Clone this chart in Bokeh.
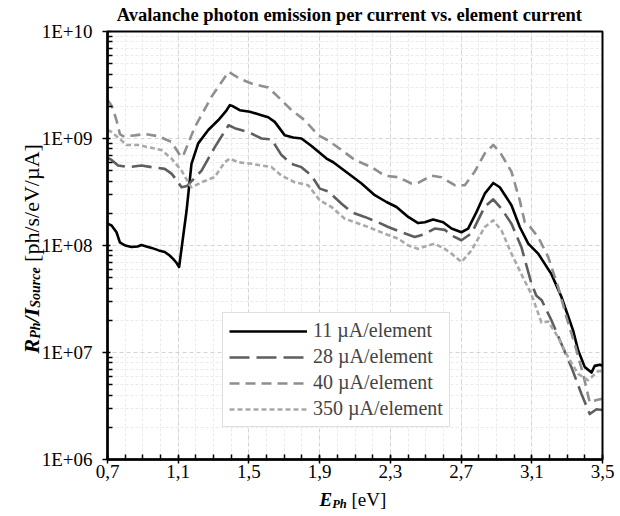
import numpy as np
from bokeh.plotting import figure
from bokeh.models import (FixedTicker, CustomJSTickFormatter, Label, Legend, LegendItem,
                          ColumnDataSource, Range1d)
from bokeh.embed import file_html
from bokeh.resources import INLINE

# ---------------- data ----------------
series_labels = ["11 \u00b5A/element", "28 \u00b5A/element", "40 \u00b5A/element", "350 \u00b5A/element"]

e_11 = [0.70, 0.723, 0.751, 0.770, 0.800, 0.836, 0.870, 0.892, 0.920, 0.949, 0.990, 1.024, 1.050, 1.071,
        1.090, 1.105, 1.147, 1.175, 1.213, 1.270, 1.326, 1.370, 1.392, 1.410, 1.448, 1.505, 1.571,
        1.609, 1.646, 1.703, 1.750, 1.797, 1.854, 1.939, 1.977, 2.062, 2.137, 2.212, 2.278, 2.335,
        2.401, 2.457, 2.495, 2.542, 2.599, 2.646, 2.702, 2.740, 2.787, 2.834, 2.882, 2.919, 2.985,
        3.032, 3.080, 3.136, 3.211, 3.268, 3.334, 3.362, 3.400, 3.438, 3.456, 3.485, 3.500]
r_11 = [1.60e8, 1.54e8, 1.33e8, 1.07e8, 1.00e8, 9.7e7, 9.8e7, 1.01e8, 9.8e7, 9.5e7, 9.0e7, 8.7e7, 8.1e7, 7.5e7,
        6.9e7, 6.3e7, 2.1e8, 5.8e8, 9.0e8, 1.20e9, 1.48e9, 1.80e9, 2.05e9, 2.00e9, 1.84e9, 1.78e9, 1.65e9,
        1.58e9, 1.43e9, 1.07e9, 1.02e9, 1.00e9, 8.5e8, 6.5e8, 6.0e8, 4.7e8, 3.8e8, 2.95e8, 2.55e8, 2.29e8,
        1.85e8, 1.62e8, 1.65e8, 1.75e8, 1.65e8, 1.44e8, 1.33e8, 1.44e8, 2.05e8, 3.05e8, 3.84e8, 3.5e8, 2.38e8,
        1.49e8, 1.04e8, 8.4e7, 5.4e7, 3.3e7, 1.6e7, 1.05e7, 7.3e6, 6.5e6, 7.5e6, 7.7e6, 7.5e6]

e_28 = [0.70, 0.723, 0.760, 0.817, 0.892, 0.949, 1.024, 1.062, 1.090, 1.119, 1.150, 1.232, 1.307, 1.385,
        1.420, 1.496, 1.571, 1.628, 1.684, 1.741, 1.797, 1.854, 1.901, 1.948, 2.024, 2.080, 2.155,
        2.231, 2.288, 2.363, 2.438, 2.495, 2.551, 2.608, 2.646, 2.702, 2.759, 2.834, 2.882, 2.929,
        2.985, 3.041, 3.098, 3.126, 3.155, 3.211, 3.268, 3.324, 3.381, 3.428, 3.466, 3.500]
r_28 = [6.6e8, 6.3e8, 5.6e8, 5.4e8, 5.6e8, 5.4e8, 5.2e8, 4.7e8, 4.1e8, 3.5e8, 3.6e8, 5.0e8, 8.3e8, 1.33e9,
        1.25e9, 1.15e9, 1.00e9, 9.8e8, 7.0e8, 5.8e8, 5.4e8, 4.5e8, 3.4e8, 3.2e8, 2.46e8, 2.05e8, 1.85e8,
        1.65e8, 1.49e8, 1.33e8, 1.20e8, 1.28e8, 1.44e8, 1.40e8, 1.24e8, 1.12e8, 1.30e8, 2.3e8, 2.7e8, 2.2e8,
        1.6e8, 9.7e7, 4.4e7, 3.4e7, 3.1e7, 2.0e7, 1.2e7, 7.3e6, 4.1e6, 2.66e6, 2.95e6, 2.9e6]

e_40 = [0.70, 0.725, 0.751, 0.770, 0.789, 0.854, 0.911, 0.987, 1.062, 1.109, 1.125, 1.194, 1.288, 1.385,
        1.450, 1.514, 1.609, 1.665, 1.741, 1.816, 1.892, 1.948, 2.024, 2.099, 2.193, 2.268, 2.344,
        2.419, 2.457, 2.533, 2.589, 2.664, 2.721, 2.777, 2.834, 2.882, 2.919, 2.985, 3.032, 3.060,
        3.089, 3.136, 3.193, 3.249, 3.296, 3.343, 3.390, 3.428, 3.466, 3.500]
r_40 = [2.3e9, 2.0e9, 1.48e9, 1.10e9, 1.05e9, 1.07e9, 1.10e9, 1.05e9, 9.3e8, 7.0e8, 6.7e8, 1.28e9, 2.45e9, 4.2e9,
        3.6e9, 3.27e9, 3.0e9, 2.45e9, 1.84e9, 1.48e9, 1.07e9, 9.6e8, 7.8e8, 6.3e8, 5.4e8, 4.5e8, 4.35e8,
        3.8e8, 3.84e8, 4.5e8, 4.35e8, 3.66e8, 3.66e8, 4.9e8, 7.25e8, 8.7e8, 7.5e8, 4.9e8, 2.64e8, 1.66e8,
        1.5e8, 1.2e8, 7.8e7, 4.1e7, 2.14e7, 1.2e7, 6.3e6, 3.4e6, 3.6e6, 3.7e6]

e_350 = [0.70, 0.723, 0.779, 0.807, 0.874, 0.930, 1.005, 1.062, 1.119, 1.166, 1.175, 1.232, 1.307, 1.363,
         1.392, 1.439, 1.514, 1.571, 1.628, 1.684, 1.759, 1.835, 1.901, 1.967, 2.042, 2.099, 2.174,
         2.268, 2.344, 2.401, 2.457, 2.514, 2.551, 2.608, 2.646, 2.702, 2.759, 2.834, 2.882, 2.929,
         2.985, 3.041, 3.098, 3.155, 3.193, 3.249, 3.306, 3.362, 3.419, 3.475, 3.500]
r_350 = [1.2e9, 1.15e9, 9.6e8, 8.7e8, 8.7e8, 8.3e8, 7.8e8, 6.5e8, 5.0e8, 3.66e8, 3.5e8, 3.9e8, 4.37e8, 6.0e8,
         6.5e8, 6.0e8, 5.8e8, 5.6e8, 5.4e8, 4.5e8, 3.9e8, 3.66e8, 2.64e8, 2.29e8, 1.78e8, 1.65e8, 1.49e8,
         1.29e8, 1.16e8, 1.0e8, 9.3e7, 1.0e8, 1.04e8, 9.3e7, 8.4e7, 7.0e7, 9.0e7, 1.49e8, 1.72e8, 1.38e8,
         8.4e7, 5.4e7, 3.5e7, 1.9e7, 1.95e7, 1.39e7, 9.0e6, 6.3e6, 5.5e6, 6.7e6, 6.7e6]

x_ticks = [0.7, 1.1, 1.5, 1.9, 2.3, 2.7, 3.1, 3.5]
x_tick_labels = ["0,7", "1,1", "1,5", "1,9", "2,3", "2,7", "3,1", "3,5"]
y_ticks = [1e6, 1e7, 1e8, 1e9, 1e10]
y_tick_labels = ["1E+06", "1E+07", "1E+08", "1E+09", "1E+10"]

title_text = "Avalanche photon emission per current vs. element current"

# ---------------- geometry ----------------
FONT = "Liberation Serif"
W, H = 620, 516
X0, X1, Y0, Y1 = 107, 602, 31, 459   # plot-area bounds in canvas pixels
XMIN, XMAX = x_ticks[0], x_ticks[-1]
YMIN, YMAX = y_ticks[0], y_ticks[-1]
px_per_x = (X1 - X0) / (XMAX - XMIN)
px_per_dec = (Y1 - Y0) / (np.log10(YMAX) - np.log10(YMIN))
xr = Range1d(XMIN - X0 / px_per_x, XMAX + (W - X1) / px_per_x)
yr = Range1d(10 ** (np.log10(YMIN) - (H - Y1) / px_per_dec), 10 ** (np.log10(YMAX) + Y0 / px_per_dec))

# the frame covers the whole canvas; axes are pinned to the plot-area edges
p = figure(width=W, height=H, x_range=xr, y_range=yr, y_axis_type="log",
           output_backend="svg", toolbar_location=None,
           min_border_left=0, min_border_right=0, min_border_top=0, min_border_bottom=0)
p.background_fill_color = "white"
p.border_fill_color = "white"
p.outline_line_color = None

x_minor = [round(v, 1) for v in np.arange(XMIN, XMAX + 1e-6, 0.1)]
y_minor = [m * 10.0 ** k for k in range(6, 10) for m in range(2, 10)]
p.xaxis.ticker = FixedTicker(ticks=x_ticks, minor_ticks=x_minor)
p.yaxis.ticker = FixedTicker(ticks=y_ticks, minor_ticks=y_minor)

fmt_code = """
let best = 0, bd = Infinity;
for (let i = 0; i < tvals.length; i++) {
  const d = Math.abs(tvals[i] - tick) / Math.abs(tvals[i]);
  if (d < bd) { bd = d; best = i; }
}
return tlabels[best];
"""
p.xaxis.formatter = CustomJSTickFormatter(args=dict(tvals=x_ticks, tlabels=x_tick_labels), code=fmt_code)
p.yaxis.formatter = CustomJSTickFormatter(args=dict(tvals=y_ticks, tlabels=y_tick_labels), code=fmt_code)

p.xaxis.fixed_location = YMIN
p.xaxis.bounds = (XMIN, XMAX)
p.yaxis.fixed_location = XMIN
p.yaxis.bounds = (YMIN, YMAX)

for ax in (p.xaxis[0], p.yaxis[0]):
    ax.axis_line_color = "black"
    ax.axis_line_width = 2.5
    ax.major_tick_line_color = "black"
    ax.major_tick_line_width = 1.5
    ax.minor_tick_line_color = "black"
    ax.minor_tick_line_width = 1.5
    ax.minor_tick_in = 5
    ax.minor_tick_out = 0
    ax.major_label_text_font = FONT
    ax.major_label_text_font_size = "19px"
    ax.major_label_text_color = "black"

p.xaxis.major_tick_in = 4
p.xaxis.major_tick_out = 4
p.xaxis.major_label_standoff = 1
p.yaxis.major_tick_in = 3
p.yaxis.major_tick_out = 5
p.yaxis.major_label_standoff = 10

for g in (p.xgrid[0], p.ygrid[0]):
    g.grid_line_color = "#d4d4d4"
    g.grid_line_dash = "4 3"
    g.grid_line_width = 1
    g.minor_grid_line_color = "#ebebeb"
    g.minor_grid_line_dash = "3 2"
    g.minor_grid_line_width = 1
p.xgrid.bounds = (XMIN, XMAX)
p.ygrid.bounds = (YMIN, YMAX)

# white masks so that the grid only shows inside the plot area
x_lo, x_hi, y_lo, y_hi = xr.start, xr.end, yr.start, yr.end
p.quad(left=[x_lo, XMAX, x_lo, x_lo], right=[XMIN, x_hi, x_hi, x_hi],
       bottom=[y_lo, y_lo, y_lo, YMAX], top=[y_hi, y_hi, YMIN, y_hi],
       fill_color="white", line_color=None)

styles = [
    dict(color="black", dash="solid", width=2.6),
    dict(color="#5e5e5e", dash="20 7", width=2.6),
    dict(color="#8f8f8f", dash="10 6", width=2.6),
    dict(color="#a9a9a9", dash="5 3", width=2.6),
]
series = [(e_11, r_11), (e_28, r_28), (e_40, r_40), (e_350, r_350)]
renderers = []
for (ex, ry), st in zip(series, styles):
    src = ColumnDataSource(dict(x=ex, y=ry))
    r = p.line("x", "y", source=src, line_color=st["color"], line_dash=st["dash"],
               line_width=st["width"], line_join="round")
    renderers.append(r)

# plot-area border (top and right; left/bottom are the axis lines)
p.quad(left=[XMIN], right=[XMAX], bottom=[YMIN], top=[YMAX],
       fill_color=None, line_color="black", line_width=2)

legend = Legend(items=[LegendItem(label=lab, renderers=[r]) for lab, r in zip(series_labels, renderers)],
                location=(222, H - 427))
legend.label_text_font = FONT
legend.label_text_font_size = "20px"
legend.glyph_width = 78
legend.glyph_height = 20
legend.label_height = 20
legend.spacing = 3
legend.padding = 6
legend.margin = 0
legend.label_standoff = 6
legend.border_line_color = "#bfbfbf"
legend.border_line_width = 1
legend.background_fill_color = "white"
legend.background_fill_alpha = 1.0
p.add_layout(legend)


# ---------------- titles placed in canvas pixels ----------------
def add_text(px, py, text, size, style="normal", angle=0.0, align="left", baseline="alphabetic"):
    p.add_layout(Label(x=px, y=H - py, x_units="screen", y_units="screen", text=text,
                       text_font=FONT, text_font_size=size,
                       text_font_style=style, text_align=align, text_baseline=baseline,
                       angle=angle, text_color="black"))


add_text(349, 14, title_text, "18.5px", "bold", align="center", baseline="middle")

# x axis title: E_Ph [eV]
xb = 319
add_text(xb, 499, "E", "19px", "bold italic")
add_text(xb + 12.7, 503, "Ph", "12.5px", "bold italic")
add_text(xb + 12.7 + 14.6 + 4.7, 499, "[eV]", "19px")

# y axis title (rotated): R_Ph/I_Source [ph/s/eV/uA]
yb = 353
ang = np.pi / 2
add_text(31, yb, "R", "22px", "bold italic", angle=ang)
add_text(35, yb - 14.7, "Ph", "14px", "bold italic", angle=ang)
add_text(31, yb - 14.7 - 16.3, "/I", "22px", "bold italic", angle=ang)
add_text(35, yb - 14.7 - 16.3 - 14.7, "Source", "14px", "bold italic", angle=ang)
add_text(31, yb - 14.7 - 16.3 - 14.7 - 40.4 - 5.5, "[ph/s/eV/\u00b5A]", "22px", angle=ang)

open("out.html", "w").write(file_html(p, INLINE))
